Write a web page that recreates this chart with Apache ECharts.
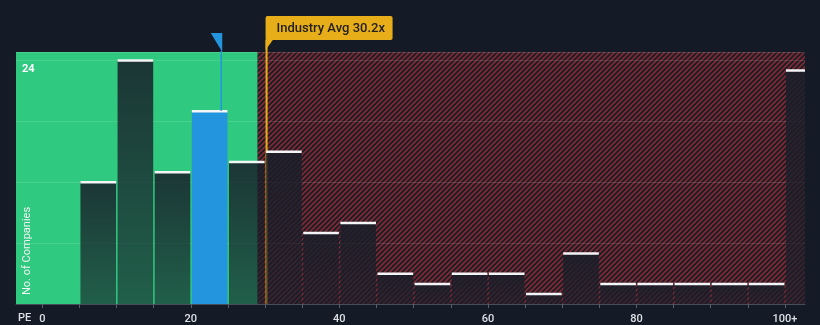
<!DOCTYPE html>
<html>
<head>
<meta charset="utf-8">
<script src="https://cdn.jsdelivr.net/npm/echarts@6/dist/echarts.min.js"></script>
<style>
  html, body { margin: 0; padding: 0; background: #151b26; }
  #chart { width: 820px; height: 325px; }
</style>
</head>
<body>
<div id="chart"></div>
<script>
// PE histogram: bins of width 5, the last bin holds everything from 100 up
const binStarts = [0, 5, 10, 15, 20, 25, 30, 35, 40, 45, 50, 55, 60, 65, 70, 75, 80, 85, 90, 95, 100];
const companyCounts = [0, 12, 24, 13, 19, 14, 15, 7, 8, 3, 2, 3, 3, 1, 5, 2, 2, 2, 2, 2, 23];
const binWidth = 5;
const tickValues = [0, 5, 10, 15, 20, 25, 30, 35, 40, 45, 50, 55, 60, 65, 70, 75, 80, 85, 90, 95, 100];
const tickLabelValues = [0, 20, 40, 60, 80, 100];
const yLabelValues = [24];
const companyPE = 24.1;
const industryAvgPE = 30.2;
const fairPEUpper = 29;
const xRange = [-3.54, 102.7];
const yRange = [0, 24.8];

const FONT = 'Roboto, "Noto Sans", sans-serif';

// diagonal red hatch tile for the "expensive" zone
function makeHatch() {
  const p = 5, size = 10;
  const c = document.createElement('canvas');
  c.width = size; c.height = size;
  const ctx = c.getContext('2d');
  const img = ctx.createImageData(size, size);
  const red = [124, 40, 51], dark = [28, 29, 39];
  for (let y = 0; y < size; y++) {
    for (let x = 0; x < size; x++) {
      const t = (x + y) % p;
      const w = t < 2 ? 1 : (t === 2 ? 0.45 : 0);
      const i = (y * size + x) * 4;
      for (let k = 0; k < 3; k++) img.data[i + k] = Math.round(red[k] * w + dark[k] * (1 - w));
      img.data[i + 3] = 255;
    }
  }
  ctx.putImageData(img, 0, 0);
  return c;
}
const hatch = makeHatch();

const companyBinIndex = binStarts.findIndex(s => companyPE >= s && companyPE < s + binWidth);
const barData = binStarts.map((s, i) => [s, companyCounts[i], i === companyBinIndex ? 1 : 0]);
const zoneData = [[xRange[0], fairPEUpper, 0], [fairPEUpper, xRange[1], 1]];

const chart = echarts.init(document.getElementById('chart'), null, { renderer: 'canvas' });

chart.setOption({
  backgroundColor: '#151b26',
  animation: false,
  grid: { left: 16, right: 15, top: 52, bottom: 21 },
  xAxis: {
    type: 'value',
    min: xRange[0],
    max: xRange[1],
    z: 1,
    axisLine: { show: true, lineStyle: { color: '#474e5a', width: 1 } },
    axisTick: { show: true, customValues: tickValues, length: 4, lineStyle: { color: '#5a616c' } },
    axisLabel: {
      customValues: tickLabelValues,
      formatter: v => (v === 100 ? '100+' : String(v)),
      color: '#dde1e6', fontSize: 11, fontWeight: 500, fontFamily: FONT, margin: 10
    },
    splitLine: { show: false }
  },
  yAxis: {
    type: 'value',
    min: yRange[0],
    max: yRange[1],
    interval: 6,
    z: 1,
    axisLine: { show: false },
    axisTick: { show: false },
    splitLine: { show: true, lineStyle: { color: 'rgba(255,255,255,0.13)', width: 1 } },
    axisLabel: {
      customValues: yLabelValues,
      inside: true,
      margin: 6,
      verticalAlign: 'top',
      padding: [4, 0, 0, 0],
      color: '#ffffff', fontSize: 11, fontWeight: 'bold', fontFamily: FONT
    }
  },
  graphic: [
    {
      type: 'text', left: 18, top: 313, z: 10,
      style: { text: 'PE', fill: '#dde1e6', font: '500 11px ' + FONT }
    },
    {
      type: 'text', x: 33, y: 295, rotation: Math.PI / 2, z: 10,
      style: { text: 'No. of Companies', fill: '#f2f4f5', font: '11px ' + FONT, align: 'left', verticalAlign: 'bottom' }
    }
  ],
  series: [
    {
      // value zones: green up to the fair ratio, hatched red beyond it
      type: 'custom',
      z: 0,
      clip: true,
      data: zoneData,
      encode: { x: [0, 1] },
      renderItem: (params, api) => {
        const a = api.coord([api.value(0), yRange[1]]);
        const b = api.coord([api.value(1), yRange[0]]);
        const bad = api.value(2) === 1;
        return {
          type: 'rect',
          shape: { x: a[0], y: a[1], width: b[0] - a[0], height: b[1] - a[1], r: bad ? [0, 4, 0, 0] : 0 },
          style: { fill: bad ? { image: hatch, repeat: 'repeat' } : '#2fc97f' }
        };
      }
    },
    {
      // industry average marker with its flag label
      type: 'custom',
      z: 1.5,
      clip: false,
      data: [[industryAvgPE]],
      encode: { x: 0 },
      renderItem: (params, api) => {
        const top = api.coord([api.value(0), yRange[1]]);
        const base = api.coord([api.value(0), 0]);
        const x = top[0];
        const boxBottom = top[1] - 12;
        const boxTop = top[1] - 36;
        return {
          type: 'group',
          children: [
            { type: 'line', shape: { x1: x, y1: boxBottom, x2: x, y2: base[1] },
              style: { stroke: '#e8ae1a', lineWidth: 2 } },
            { type: 'polygon', shape: { points: [[x - 1, boxBottom - 1], [x + 7, boxBottom - 1], [x - 1, boxBottom + 10]] },
              style: { fill: '#e8ae1a' } },
            { type: 'rect', shape: { x: x - 1, y: boxTop, width: 127, height: boxBottom - boxTop, r: 2 },
              style: { fill: '#e8ae1a' } },
            { type: 'text', x: x + 10, y: (boxTop + boxBottom) / 2 + 1,
              style: { text: 'Industry Avg ' + industryAvgPE + 'x', fill: '#23211c',
                       font: '500 13px ' + FONT, verticalAlign: 'middle', align: 'left' } }
          ]
        };
      }
    },
    {
      // histogram bars
      type: 'custom',
      z: 2,
      clip: true,
      data: barData,
      encode: { x: 0, y: 1 },
      renderItem: (params, api) => {
        const start = api.value(0);
        const count = api.value(1);
        if (!count) return null;
        const p0 = api.coord([start, 0]);
        const p1 = api.coord([start + binWidth, count]);
        const x = p0[0] + 1;
        const w = p1[0] - p0[0] - 1.5;
        const h = p0[1] - p1[1];
        const isCompany = api.value(2) === 1;
        const fill = isCompany ? '#2394de' : new echarts.graphic.LinearGradient(0, 0, 0, 1, [
          { offset: 0, color: 'rgba(24,30,41,0.86)' },
          { offset: 1, color: 'rgba(24,30,41,0.62)' }
        ]);
        return {
          type: 'group',
          children: [
            { type: 'rect', shape: { x: x, y: p1[1], width: w, height: h }, style: { fill: fill } },
            { type: 'rect', shape: { x: x, y: p1[1] - 1, width: w, height: 2.5 }, style: { fill: '#f4f5f6' } }
          ]
        };
      }
    },
    {
      // this company's PE pointer
      type: 'custom',
      z: 3,
      clip: false,
      data: [[companyPE, companyCounts[companyBinIndex]]],
      encode: { x: 0, y: 1 },
      renderItem: (params, api) => {
        const top = api.coord([api.value(0), yRange[1]]);
        const barTop = api.coord([api.value(0), api.value(1)]);
        const x = top[0];
        return {
          type: 'group',
          children: [
            { type: 'line', shape: { x1: x, y1: top[1] - 1, x2: x, y2: barTop[1] },
              style: { stroke: '#2394de', lineWidth: 1.5 } },
            { type: 'polygon', shape: { points: [[x - 10.5, top[1] - 19], [x + 1, top[1] - 19], [x + 1, top[1]]] },
              style: { fill: '#2394de' } }
          ]
        };
      }
    }
  ]
});
</script>
</body>
</html>
